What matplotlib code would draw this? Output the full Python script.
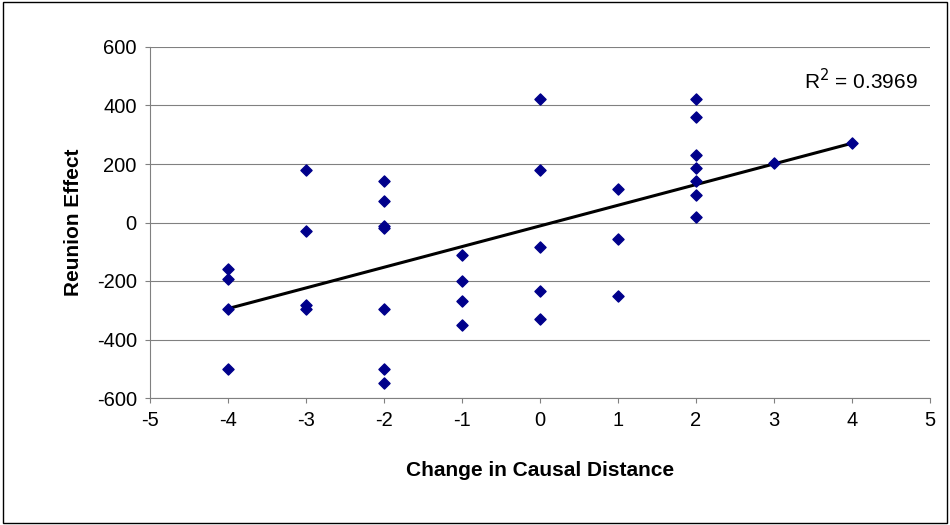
import matplotlib
matplotlib.use("Agg")
import matplotlib.pyplot as plt
import numpy as np
plt.rcParams['axes.unicode_minus'] = False

x = [-4,-4,-4,-4, -3,-3,-3,-3, -2,-2,-2,-2,-2,-2,-2, -1,-1,-1,-1, 0,0,0,0,0, 1,1,1, 2,2,2,2,2,2,2, 3, 4]
y = [-159,-193,-296,-501, 180,-29,-282,-296, 142,73,-12,-19,-296,-501,-549, -111,-200,-268,-350,
     422,180,-84,-234,-330, 115,-56,-251, 422,360,231,186,142,94,19, 203, 272]

fig = plt.figure(figsize=(9.5,5.25), dpi=100)
ax = fig.add_axes([150/950, 1-398/525, 780/950, 351/525])
fig.patches.append(plt.Rectangle((0.003,0.003),0.994,0.994, transform=fig.transFigure, fill=False, ec='black', lw=1))
ax.scatter(x, y, marker='D', s=32, color='#00008B', zorder=3)
m, b = np.polyfit(x, y, 1)
xs = np.array([min(x), max(x)])
ax.plot(xs, m*xs+b, color='black', lw=2.2, zorder=2)
ax.text(0.985, 0.905, r'R$^2$ = 0.3969', transform=ax.transAxes, ha='right', va='center', fontsize=15, family='Liberation Sans')
ax.set_xlim(-5,5); ax.set_ylim(-600,600)
ax.set_xticks(range(-5,6)); ax.set_yticks(range(-600,601,200))
ax.grid(axis='y', color='gray', lw=0.8)
ax.set_axisbelow(True)
for s in ['top','right']: ax.spines[s].set_visible(False)
ax.spines['left'].set_color('gray'); ax.spines['bottom'].set_color('gray')
ax.tick_params(labelsize=14.5, direction='out', color='gray', pad=6)
for t in ax.get_xticklabels()+ax.get_yticklabels(): t.set_family('Liberation Sans')
ax.set_xlabel('Change in Causal Distance', fontsize=15, fontweight='bold', family='Liberation Sans', labelpad=22)
ax.set_ylabel('Reunion Effect', fontsize=15, fontweight='bold', family='Liberation Sans', labelpad=10)
fig.savefig('out.png')
